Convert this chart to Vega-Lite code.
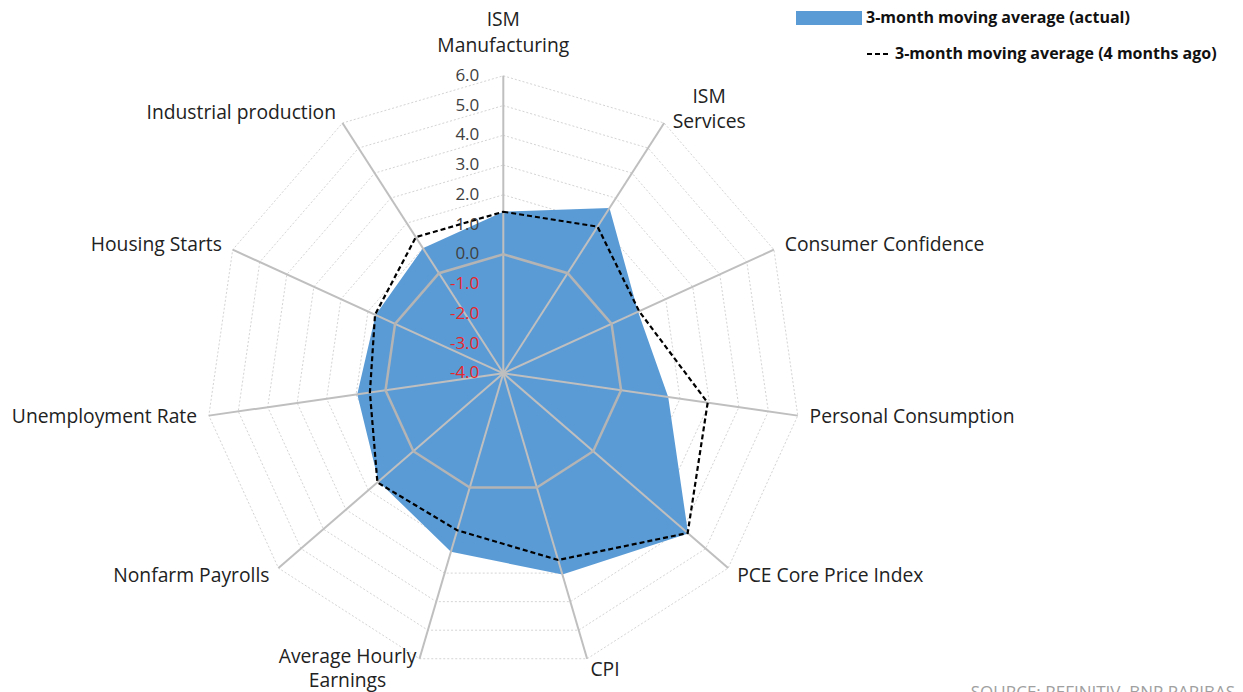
{
  "$schema": "https://vega.github.io/schema/vega-lite/v6.json",
  "width": 1243,
  "height": 692,
  "autosize": "none",
  "padding": 0,
  "config": {"view": {"stroke": null}, "font": "Open Sans"},
  "title": {"text": "SOURCE: REFINITIV, BNP PARIBAS", "orient": "bottom", "anchor": "end", "offset": -7, "dx": -8, "fontSize": 17, "fontWeight": "normal", "color": "#a0a0a0", "font": "Open Sans"},
  "datasets": {
    "values": [
      {"axis": "ISM\nManufacturing", "i": 0, "actual": 1.43, "ago": 1.43},
      {"axis": "ISM\nServices", "i": 1, "actual": 2.6, "ago": 1.86},
      {"axis": "Consumer Confidence", "i": 2, "actual": 0.98, "ago": 1.02},
      {"axis": "Personal Consumption", "i": 3, "actual": 1.6, "ago": 2.94},
      {"axis": "PCE Core Price Index", "i": 4, "actual": 4.22, "ago": 4.2},
      {"axis": "CPI", "i": 5, "actual": 3.05, "ago": 2.54},
      {"axis": "Average Hourly\nEarnings", "i": 6, "actual": 2.25, "ago": 1.5},
      {"axis": "Nonfarm Payrolls", "i": 7, "actual": 1.55, "ago": 1.6},
      {"axis": "Unemployment Rate", "i": 8, "actual": 0.96, "ago": 0.53},
      {"axis": "Housing Starts", "i": 9, "actual": 0.72, "ago": 0.74},
      {"axis": "Industrial production", "i": 10, "actual": 1.0, "ago": 1.44}
    ],
    "rings": [
      {"level": -4, "i": [0,1,2,3,4,5,6,7,8,9,10]},
      {"level": -3, "i": [0,1,2,3,4,5,6,7,8,9,10]},
      {"level": -2, "i": [0,1,2,3,4,5,6,7,8,9,10]},
      {"level": -1, "i": [0,1,2,3,4,5,6,7,8,9,10]},
      {"level": 0, "i": [0,1,2,3,4,5,6,7,8,9,10]},
      {"level": 1, "i": [0,1,2,3,4,5,6,7,8,9,10]},
      {"level": 2, "i": [0,1,2,3,4,5,6,7,8,9,10]},
      {"level": 3, "i": [0,1,2,3,4,5,6,7,8,9,10]},
      {"level": 4, "i": [0,1,2,3,4,5,6,7,8,9,10]},
      {"level": 5, "i": [0,1,2,3,4,5,6,7,8,9,10]},
      {"level": 6, "i": [0,1,2,3,4,5,6,7,8,9,10]}
    ]
  },
  "layer": [
    {
      "data": {"name": "rings"},
      "transform": [
        {"filter": "datum.level > -4 && datum.level != 0"},
        {"flatten": ["i"]},
        {"calculate": "(datum.level + 4) * sin(datum.i * 2 * PI / 11)", "as": "x"},
        {"calculate": "(datum.level + 4) * cos(datum.i * 2 * PI / 11)", "as": "y"}
      ],
      "mark": {"type": "line", "interpolate": "linear-closed", "stroke": "#d4d4d4", "strokeWidth": 1, "strokeDash": [2, 2]},
      "encoding": {
        "x": {"field": "x", "type": "quantitative", "scale": {"domain": [-16.918, 24.864], "nice": false, "zero": false}, "axis": null},
        "y": {"field": "y", "type": "quantitative", "scale": {"domain": [-10.713, 12.548], "nice": false, "zero": false}, "axis": null},
        "detail": {"field": "level", "type": "nominal"},
        "order": {"field": "i", "type": "quantitative"}
      }
    },
    {
      "data": {"name": "values"},
      "transform": [
        {"fold": ["actual"], "as": ["series", "value"]},
        {"calculate": "(datum.value + 4) * sin(datum.i * 2 * PI / 11)", "as": "x"},
        {"calculate": "(datum.value + 4) * cos(datum.i * 2 * PI / 11)", "as": "y"}
      ],
      "mark": {"type": "line", "interpolate": "linear-closed", "strokeOpacity": 0, "fillOpacity": 1},
      "encoding": {
        "x": {"field": "x", "type": "quantitative"},
        "y": {"field": "y", "type": "quantitative"},
        "order": {"field": "i", "type": "quantitative"},
        "fill": {"field": "series", "type": "nominal",
          "scale": {"domain": ["actual"], "range": ["#5b9bd5"]},
          "legend": {"title": null, "orient": "none", "legendX": 796, "legendY": -15, "padding": 0,
            "symbolType": "M-1,-0.21H1V0.21H-1Z", "symbolSize": 4356, "symbolStrokeWidth": 0, "symbolOpacity": 1,
            "labelExpr": "'3-month moving average (actual)'", "labelLimit": 0, "labelFont": "Open Sans", "labelFontSize": 16, "labelFontWeight": "bold", "labelColor": "#111111", "labelOffset": 4}}
      }
    },
    {
      "data": {"name": "values"},
      "transform": [
        {"calculate": "10 * sin(datum.i * 2 * PI / 11)", "as": "x"},
        {"calculate": "10 * cos(datum.i * 2 * PI / 11)", "as": "y"}
      ],
      "mark": {"type": "rule", "stroke": "#bfbfbf", "strokeWidth": 2},
      "encoding": {
        "x": {"field": "x", "type": "quantitative"},
        "y": {"field": "y", "type": "quantitative"},
        "x2": {"datum": 0},
        "y2": {"datum": 0}
      }
    },
    {
      "data": {"name": "rings"},
      "transform": [
        {"filter": "datum.level == 0"},
        {"flatten": ["i"]},
        {"calculate": "(datum.level + 4) * sin(datum.i * 2 * PI / 11)", "as": "x"},
        {"calculate": "(datum.level + 4) * cos(datum.i * 2 * PI / 11)", "as": "y"}
      ],
      "mark": {"type": "line", "interpolate": "linear-closed", "stroke": "#b4b4b4", "strokeWidth": 2.5},
      "encoding": {
        "x": {"field": "x", "type": "quantitative"},
        "y": {"field": "y", "type": "quantitative"},
        "order": {"field": "i", "type": "quantitative"}
      }
    },
    {
      "data": {"name": "values"},
      "transform": [
        {"fold": ["ago"], "as": ["series", "value"]},
        {"calculate": "(datum.value + 4) * sin(datum.i * 2 * PI / 11)", "as": "x"},
        {"calculate": "(datum.value + 4) * cos(datum.i * 2 * PI / 11)", "as": "y"}
      ],
      "mark": {"type": "line", "interpolate": "linear-closed", "stroke": "#000000", "strokeWidth": 2.2},
      "encoding": {
        "x": {"field": "x", "type": "quantitative"},
        "y": {"field": "y", "type": "quantitative"},
        "order": {"field": "i", "type": "quantitative"},
        "strokeDash": {"field": "series", "type": "nominal",
          "scale": {"domain": ["ago"], "range": [[5, 3]]},
          "legend": {"title": null, "orient": "none", "legendX": 866, "legendY": 42, "padding": 0,
            "symbolType": "stroke", "symbolSize": 484, "symbolStrokeColor": "#000000", "symbolStrokeWidth": 2,
            "labelExpr": "'3-month moving average (4 months ago)'", "labelLimit": 0, "labelFont": "Open Sans", "labelFontSize": 16, "labelFontWeight": "bold", "labelColor": "#111111", "labelOffset": 5}}
      }
    },
    {
      "data": {"name": "rings"},
      "transform": [
        {"calculate": "0", "as": "x"},
        {"calculate": "datum.level + 4", "as": "y"},
        {"calculate": "(datum.level < 0 ? '-' : '') + format(abs(datum.level), '.1f')", "as": "lab"}
      ],
      "mark": {"type": "text", "align": "right", "baseline": "middle", "dx": -24, "fontSize": 17},
      "encoding": {
        "x": {"field": "x", "type": "quantitative"},
        "y": {"field": "y", "type": "quantitative"},
        "text": {"field": "lab"},
        "color": {"condition": {"test": "datum.level < 0", "value": "#e8262b"}, "value": "#404040"}
      }
    },
    {
      "data": {"name": "values"},
      "transform": [
        {"filter": "datum.i >= 2 && datum.i <= 5"},
        {"calculate": "10.4 * sin(datum.i * 2 * PI / 11)", "as": "x"},
        {"calculate": "10.4 * cos(datum.i * 2 * PI / 11)", "as": "y"}
      ],
      "mark": {"type": "text", "align": "left", "baseline": "middle", "fontSize": 19.3, "color": "#222222"},
      "encoding": {
        "x": {"field": "x", "type": "quantitative"},
        "y": {"field": "y", "type": "quantitative"},
        "text": {"field": "axis"}
      }
    },
    {
      "data": {"name": "values"},
      "transform": [
        {"filter": "datum.i >= 7"},
        {"calculate": "10.4 * sin(datum.i * 2 * PI / 11)", "as": "x"},
        {"calculate": "10.4 * cos(datum.i * 2 * PI / 11)", "as": "y"}
      ],
      "mark": {"type": "text", "align": "right", "baseline": "middle", "fontSize": 19.3, "color": "#222222"},
      "encoding": {
        "x": {"field": "x", "type": "quantitative"},
        "y": {"field": "y", "type": "quantitative"},
        "text": {"field": "axis"}
      }
    },
    {
      "data": {"name": "values"},
      "transform": [
        {"filter": "datum.i == 0"},
        {"calculate": "10 * sin(datum.i * 2 * PI / 11)", "as": "x"},
        {"calculate": "10 * cos(datum.i * 2 * PI / 11)", "as": "y"}
      ],
      "mark": {"type": "text", "align": "center", "baseline": "middle", "dy": -56, "lineBreak": "\n", "lineHeight": 26, "fontSize": 19.3, "color": "#222222"},
      "encoding": {
        "x": {"field": "x", "type": "quantitative"},
        "y": {"field": "y", "type": "quantitative"},
        "text": {"field": "axis"}
      }
    },
    {
      "data": {"name": "values"},
      "transform": [
        {"filter": "datum.i == 1"},
        {"calculate": "10 * sin(datum.i * 2 * PI / 11)", "as": "x"},
        {"calculate": "10 * cos(datum.i * 2 * PI / 11)", "as": "y"}
      ],
      "mark": {"type": "text", "align": "center", "baseline": "middle", "dx": 45, "dy": -26, "lineBreak": "\n", "lineHeight": 25, "fontSize": 19.3, "color": "#222222"},
      "encoding": {
        "x": {"field": "x", "type": "quantitative"},
        "y": {"field": "y", "type": "quantitative"},
        "text": {"field": "axis"}
      }
    },
    {
      "data": {"name": "values"},
      "transform": [
        {"filter": "datum.i == 6"},
        {"calculate": "10 * sin(datum.i * 2 * PI / 11)", "as": "x"},
        {"calculate": "10 * cos(datum.i * 2 * PI / 11)", "as": "y"}
      ],
      "mark": {"type": "text", "align": "center", "baseline": "middle", "dx": -72, "dy": -2, "lineBreak": "\n", "lineHeight": 24, "fontSize": 19.3, "color": "#222222"},
      "encoding": {
        "x": {"field": "x", "type": "quantitative"},
        "y": {"field": "y", "type": "quantitative"},
        "text": {"field": "axis"}
      }
    }
  ]
}
